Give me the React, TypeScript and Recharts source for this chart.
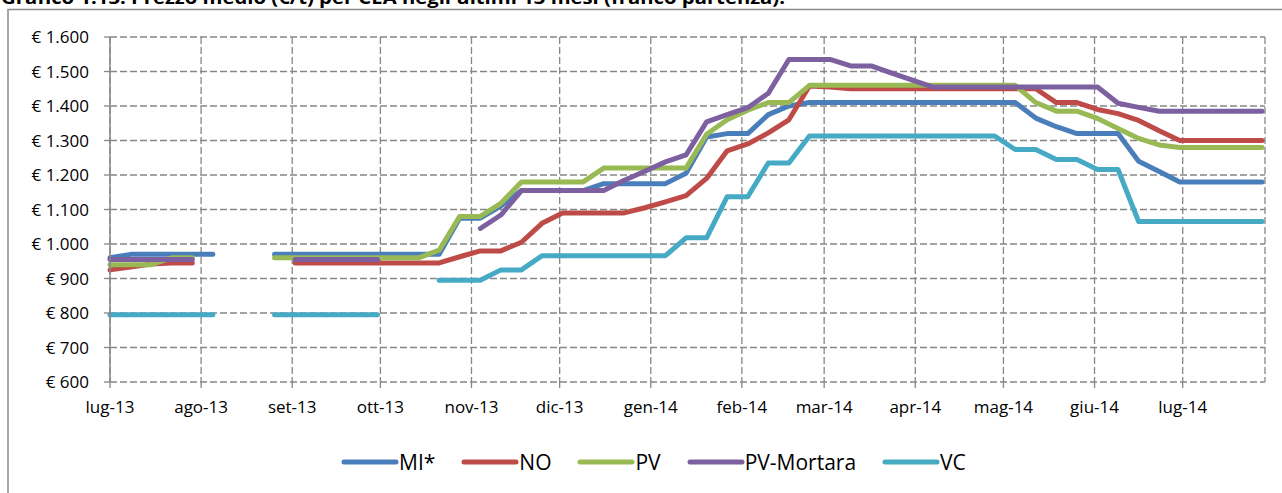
import { CartesianGrid, Line, LineChart, XAxis, YAxis } from 'recharts';

const weeks = [
  '2013-07-01', '2013-07-08', '2013-07-15', '2013-07-22', '2013-07-29',
  '2013-08-05', '2013-08-12', '2013-08-19', '2013-08-26',
  '2013-09-02', '2013-09-09', '2013-09-16', '2013-09-23', '2013-09-30',
  '2013-10-07', '2013-10-14', '2013-10-21', '2013-10-28',
  '2013-11-04', '2013-11-11', '2013-11-18', '2013-11-25',
  '2013-12-02', '2013-12-09', '2013-12-16', '2013-12-23', '2013-12-30',
  '2014-01-06', '2014-01-13', '2014-01-20', '2014-01-27',
  '2014-02-03', '2014-02-10', '2014-02-17', '2014-02-24',
  '2014-03-03', '2014-03-10', '2014-03-17', '2014-03-24', '2014-03-31',
  '2014-04-07', '2014-04-14', '2014-04-21', '2014-04-28',
  '2014-05-05', '2014-05-12', '2014-05-19', '2014-05-26',
  '2014-06-02', '2014-06-09', '2014-06-16', '2014-06-23', '2014-06-30',
  '2014-07-07', '2014-07-14', '2014-07-21', '2014-07-28',
];

const monthTicks = [
  '2013-07-01', '2013-08-01', '2013-09-01', '2013-10-01', '2013-11-01', '2013-12-01',
  '2014-01-01', '2014-02-01', '2014-03-01', '2014-04-01', '2014-05-01', '2014-06-01', '2014-07-01',
];
const monthLabels = [
  'lug-13', 'ago-13', 'set-13', 'ott-13', 'nov-13', 'dic-13',
  'gen-14', 'feb-14', 'mar-14', 'apr-14', 'mag-14', 'giu-14', 'lug-14',
];

const yTicks = [600, 700, 800, 900, 1000, 1100, 1200, 1300, 1400, 1500, 1600];
const yTickLabels = ['€ 600', '€ 700', '€ 800', '€ 900', '€ 1.000', '€ 1.100', '€ 1.200', '€ 1.300', '€ 1.400', '€ 1.500', '€ 1.600'];

const mi = [
  960, 970, 970, 970, 970, 970, null, null, 970, 970, 970, 970, 970, 970, 970, 970, 970,
  1075, 1075, 1110, 1155, 1155, 1155, 1155, 1175, 1175, 1175, 1175, 1205, 1310, 1320, 1320, 1375, 1400,
  1410, 1410, 1410, 1410, 1410, 1410, 1410, 1410, 1410, 1410, 1410,
  1365, 1340, 1320, 1320, 1320, 1240, 1210, 1180, 1180, 1180, 1180, 1180,
];
const no = [
  925, 933, 942, 945, 945, null, null, null, null, 945, 945, 945, 945, 945, 945, 945, 945,
  963, 980, 980, 1005, 1060, 1090, 1090, 1090, 1090, 1105, 1122, 1140, 1190, 1270, 1290, 1322, 1360, 1458, 1455,
  1450, 1450, 1450, 1450, 1450, 1450, 1450, 1450, 1450, 1450,
  1410, 1410, 1390, 1378, 1358, 1328, 1300, 1300, 1300, 1300, 1300,
];
const pv = [
  940, 940, 940, 960, 960, null, null, null, 960, 960, 960, 960, 960, 960, 960, 960,
  982, 1080, 1080, 1118, 1180, 1180, 1180, 1180, 1220, 1220, 1220, 1220, 1220,
  1318, 1360, 1388, 1410, 1410,
  1460, 1460, 1460, 1460, 1460, 1460, 1460, 1460, 1460, 1460, 1460,
  1410, 1385, 1385, 1364, 1335, 1306, 1287, 1280, 1280, 1280, 1280, 1280,
];
const pvMortara = [
  955, 955, 955, 955, 955, null, null, null, null, 955, 955, 955, 955, 955, null, null, null, null,
  1045, 1084, 1155, 1155, 1155, 1155, 1155, 1185, 1211, 1238, 1258, 1354, 1375, 1395, 1437,
  1535, 1535, 1535, 1516, 1516, 1495, 1475,
  1455, 1455, 1455, 1455, 1455, 1455, 1455, 1455, 1455,
  1408, 1396, 1385, 1385, 1385, 1385, 1385, 1385,
];
const vc = [
  795, 795, 795, 795, 795, 795, null, null, 795, 795, 795, 795, 795, 795, null, null,
  895, 895, 895, 925, 925, 966, 966, 966, 966, 966, 966, 966, 1018, 1018, 1137, 1137, 1235, 1235,
  1313, 1313, 1313, 1313, 1313, 1313, 1313, 1313, 1313, 1313,
  1274, 1274, 1245, 1245, 1216, 1216, 1065, 1065, 1065, 1065, 1065, 1065, 1065,
];

const series = [
  { key: 'mi', name: 'MI*', color: '#4A7EBB' },
  { key: 'no', name: 'NO', color: '#BE4B48' },
  { key: 'pv', name: 'PV', color: '#98B954' },
  { key: 'pvMortara', name: 'PV-Mortara', color: '#7D60A0' },
  { key: 'vc', name: 'VC', color: '#46AAC5' },
];

const DAY = 86400000;
const origin = Date.parse(weeks[0]);
const toDay = (d: string) => Math.round((Date.parse(d) - origin) / DAY);

const data = weeks.map((w, i) => ({
  day: toDay(w),
  mi: mi[i],
  no: no[i],
  pv: pv[i],
  pvMortara: pvMortara[i],
  vc: vc[i],
}));

const tickDays = monthTicks.map(toDay);
const font = '"Open Sans", sans-serif';
const gray = '#878787';

const App = () => {
  return (
    <div style={{ position: 'absolute', left: 0, top: 0, width: 1282, height: 493, overflow: 'hidden', background: '#fff', fontFamily: font }}>
      <svg width={1282} height={493} style={{ position: 'absolute', left: 0, top: 0 }}>
        <text x={1} y={3.5} fontSize={17} fontWeight='bold' fill='#000' textLength={784} lengthAdjust='spacingAndGlyphs'>
          Grafico 1.13: Prezzo medio (€/t) per CEA negli ultimi 13 mesi (franco partenza).
        </text>
        <rect x={8} y={9.5} width={1290} height={500} fill='none' stroke='#8c8c8c' strokeWidth={1.5} />
      </svg>
      <div style={{ position: 'absolute', left: 0, top: 0 }}>
        <LineChart width={1282} height={493} data={data} margin={{ top: 37, right: 17, left: 0, bottom: 71 }}>
          <CartesianGrid stroke={gray} strokeDasharray='7 3' strokeWidth={1.3} />
          <XAxis
            type='number'
            dataKey='day'
            domain={[0, 393]}
            ticks={tickDays}
            interval={0}
            tickFormatter={(v: number) => monthLabels[tickDays.indexOf(v)]}
            axisLine={false}
            tickLine={{ stroke: gray, strokeWidth: 1.3 }}
            tickSize={6}
            tickMargin={13}
            height={40}
            tick={{ fill: '#000', fontSize: 17, fontFamily: font }}
          />
          <YAxis
            type='number'
            domain={[600, 1600]}
            ticks={yTicks}
            interval={0}
            tickFormatter={(v: number) => yTickLabels[yTicks.indexOf(v)]}
            axisLine={{ stroke: gray, strokeWidth: 1.5 }}
            tickLine={{ stroke: gray, strokeWidth: 1.3 }}
            tickSize={6}
            tickMargin={15}
            width={110}
            tick={{ fill: '#000', fontSize: 17, fontFamily: font }}
          />
          {series.map((s) => (
            <Line
              key={s.key}
              type='linear'
              dataKey={s.key}
              name={s.name}
              stroke={s.color}
              strokeWidth={5}
              strokeLinecap='round'
              strokeLinejoin='round'
              dot={false}
              activeDot={false}
              isAnimationActive={false}
            />
          ))}
        </LineChart>
      </div>
      <div style={{ position: 'absolute', left: 341, top: 449, display: 'flex', alignItems: 'center', gap: 26, fontSize: 21, color: '#000', lineHeight: '26px' }}>
        {series.map((s) => (
          <div key={s.key} style={{ display: 'flex', alignItems: 'center' }}>
            <svg width={58} height={10}>
              <line x1={3} y1={5} x2={55} y2={5} stroke={s.color} strokeWidth={5} strokeLinecap='round' />
            </svg>
            <span>{s.name}</span>
          </div>
        ))}
      </div>
    </div>
  );
};

export default App;
